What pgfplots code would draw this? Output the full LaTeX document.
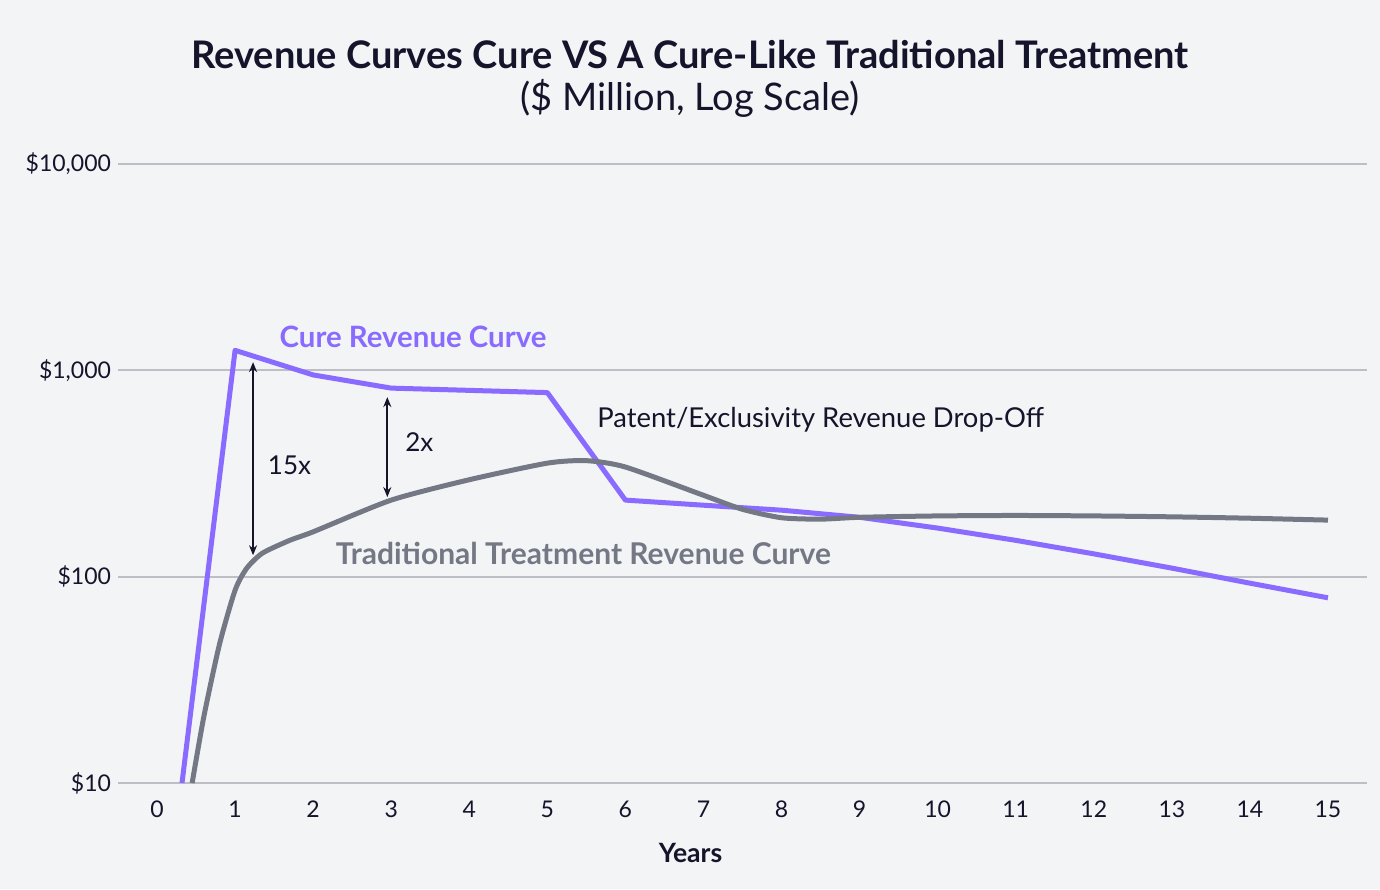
\documentclass[border=0pt]{standalone}
\usepackage{pgfplots}
\pgfplotsset{compat=1.18}
\usepackage{fontspec}
\setmainfont{Lato}
\usetikzlibrary{arrows.meta}
\definecolor{bg}{HTML}{F3F4F6}
\definecolor{cure}{HTML}{8A6BFF}
\definecolor{trad}{HTML}{747884}
\definecolor{gridc}{HTML}{BDBEC6}
\definecolor{ink}{HTML}{14142B}
\begin{document}
\begin{tikzpicture}
% background, 1 px = 0.5pt, axis box south-west at (0,0)
\fill[bg] (-59pt,-53pt) rectangle (631pt,391.5pt);
\node[font=\fontsize{19}{22}\selectfont\bfseries, text=ink] at (286pt,364pt) {Revenue Curves Cure VS A Cure-Like Traditional Treatment};
\node[font=\fontsize{19}{22}\selectfont, text=ink] at (286pt,342.5pt) {(\$ Million, Log Scale)};
\begin{axis}[
    at={(0,0)}, anchor=south west,
    scale only axis,
    width=624.5pt, height=309.5pt,
    ymode=log,
    xmin=-0.5, xmax=15.5,
    ymin=10, ymax=10000,
    axis line style={draw=none},
    major tick length=0pt,
    minor tick length=0pt,
    yminorticks=false,
    xtick={0,...,15},
    ytick={10,100,1000,10000},
    yticklabels={\$10,\$100,{\$1,000},{\$10,000}},
    ymajorgrids,
    grid style={gridc, line width=1pt},
    tick label style={font=\fontsize{11.5}{13}\selectfont, text=ink},
    /pgf/number format/assume math mode=true,
    xticklabel style={yshift=-5.5pt},
    xlabel={Years},
    xlabel style={font=\fontsize{13.3}{15}\selectfont\bfseries, text=ink, yshift=-6pt, xshift=-26pt},
    clip=true,
]
\addplot[cure, line width=2.5pt, line join=round] coordinates {
(0.32,10) (1,1250) (2,950) (3,820) (5,780) (6,235) (7,222) (8,210) (9,194)
(10,172) (11,150) (12,129) (13,110) (14,93) (15,79)};
\addplot[trad, line width=2.5pt, smooth, tension=0.4] coordinates {
(0.45,10) (0.6,21) (0.8,47) (1,86) (1.15,110) (1.35,130) (1.7,150) (2,165) (3,235) (4,295)
(5,355) (5.5,365) (6,340) (7,248) (7.5,212) (8,193) (8.5,190) (9,194) (10,197)
(11,198) (12,197) (13,195) (14,192) (15,188)};
\draw[ink, line width=1pt, {Stealth[length=5pt,width=4pt]}-{Stealth[length=5pt,width=4pt]}] (axis cs:1.23,1096) -- (axis cs:1.23,127);
\draw[ink, line width=1pt, {Stealth[length=5pt,width=4pt]}-{Stealth[length=5pt,width=4pt]}] (axis cs:2.95,742) -- (axis cs:2.95,243);
\node[anchor=west, text=ink, font=\fontsize{13}{15}\selectfont] at (axis cs:1.33,347) {15x};
\node[anchor=west, text=ink, font=\fontsize{13}{15}\selectfont] at (axis cs:3.09,449) {2x};
\node[text=cure, font=\fontsize{14.7}{17}\selectfont\bfseries] at (axis cs:3.28,1449) {Cure Revenue Curve};
\node[anchor=west, text=ink, font=\fontsize{13.7}{16}\selectfont] at (axis cs:5.55,574) {Patent/Exclusivity Revenue Drop-Off};
\node[anchor=west, text=trad, font=\fontsize{15}{17}\selectfont\bfseries] at (axis cs:2.2,130) {Traditional Treatment Revenue Curve};
\end{axis}
\end{tikzpicture}
\end{document}
